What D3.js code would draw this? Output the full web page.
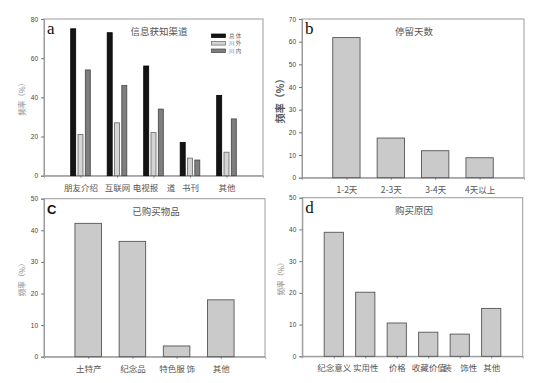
<!DOCTYPE html>
<html><head><meta charset="utf-8">
<script src="https://cdn.jsdelivr.net/npm/d3@7"></script>
<style>
html,body{margin:0;padding:0;background:#fff;}
svg{display:block;}
</style></head>
<body>
<script>
// ---------- DATA ----------
const catsA = ["朋友介绍", "互联网", "电视报　道", "书刊", "其他"];
const seriesNamesA = ["总 体", "川 外", "川 内"];
const totalA = [75, 73, 56, 17, 41];
const outsideA = [21, 27, 22, 9, 12];
const insideA = [54, 46, 34, 8, 29];

const catsB = ["1-2天", "2-3天", "3-4天", "4天以上"];
const valsB = [61.8, 17.5, 11.9, 8.8];

const catsC = ["土特产", "纪念品", "特色服 饰", "其他"];
const valsC = [42.2, 36.5, 3.4, 18];

const catsD = ["纪念意义", "实用性", "价格", "收藏价值", "装　饰性", "其他"];
const valsD = [39.1, 20.2, 10.5, 7.6, 7.0, 15.1];

const yTicksA = [0, 20, 40, 60, 80];
const yTicksB = [0, 10, 20, 30, 40, 50, 60, 70];
const yTicksC = [0, 10, 20, 30, 40, 50];
const yTicksD = [0, 10, 20, 30, 40, 50];

const titles = ["信息获知渠道", "停留天数", "已购买物品", "购买原因"];
const yLabel = "频率（%）";

// ---------- DRAW ----------
const W = 550, H = 383;
const svg = d3.select("body").append("svg").attr("width", W).attr("height", H);
const CJK = "'Noto Sans CJK SC','Noto Sans',sans-serif";
const NUM = "'Liberation Sans',Arial,sans-serif";
const SERIF = "'Liberation Serif','DejaVu Serif',serif";

function panel(o) {
  const g = svg.append("g");
  const x = d3.scaleLinear().domain([0, o.cats.length + 1]).range([o.l, o.r]);
  const y = d3.scaleLinear().domain([0, o.ymax]).range([o.b, o.t]);
  const step = x(1) - x(0);

  g.append("rect").attr("x", o.l).attr("y", o.t).attr("width", o.r - o.l).attr("height", o.b - o.t)
    .attr("fill", "none").attr("stroke", "#9a9a9a").attr("stroke-width", 1);

  const ya = g.append("g").attr("transform", `translate(${o.l},0)`)
    .call(d3.axisLeft(y).tickValues(o.yticks).tickSize(3).tickPadding(3).tickFormat(d3.format("d")));
  ya.select(".domain").attr("stroke", "#9a9a9a");
  ya.selectAll(".tick line").attr("stroke", "#777");
  ya.selectAll("text").attr("font-family", NUM).attr("font-size", 6.5).attr("fill", "#444");

  const xa = g.append("g").attr("transform", `translate(0,${o.b})`)
    .call(d3.axisBottom(x).tickValues(d3.range(1, o.cats.length + 1)).tickSize(2).tickPadding(7)
      .tickFormat((d) => o.cats[d - 1]));
  xa.select(".domain").attr("stroke", "#9a9a9a");
  xa.selectAll(".tick line").attr("stroke", "#777");
  xa.selectAll("text").attr("font-family", CJK).attr("font-size", 8.5).attr("fill", "#555");

  if (o.series) {
    const bw = step * 0.137, off = step * 0.2;
    o.series.forEach((s, si) => {
      g.append("g").selectAll("rect").data(s.vals).join("rect")
        .attr("x", (d, i) => x(i + 1) + (si - 1) * off - bw / 2)
        .attr("y", (d) => y(d))
        .attr("width", bw)
        .attr("height", (d) => y(0) - y(d))
        .attr("fill", s.fill).attr("stroke", s.stroke).attr("stroke-width", 0.8);
    });
  } else {
    const bw = step * o.bw;
    g.append("g").selectAll("rect").data(o.vals).join("rect")
      .attr("x", (d, i) => x(i + 1) - bw / 2)
      .attr("y", (d) => y(d))
      .attr("width", bw)
      .attr("height", (d) => y(0) - y(d))
      .attr("fill", "#cacaca").attr("stroke", "#555").attr("stroke-width", 0.9);
  }

  g.append("text").attr("x", o.l + 3).attr("y", o.t + 15).text(o.letter)
    .attr("font-family", o.letterFont || SERIF).attr("font-weight", o.letterBold ? "bold" : "normal")
    .attr("font-size", o.letterSize || 17).attr("fill", "#111");

  g.append("text").attr("x", o.titleX).attr("y", o.t + 16).attr("text-anchor", "middle").text(o.title)
    .attr("font-family", CJK).attr("font-size", 9.5).attr("fill", "#555");

  const cy = (o.t + o.b) / 2;
  g.append("text").attr("transform", `translate(${o.ylx},${cy}) rotate(-90)`)
    .attr("text-anchor", "middle").attr("dominant-baseline", "central").text(yLabel)
    .attr("font-family", CJK).attr("font-size", o.ylSize || 7.5).attr("fill", o.ylColor || "#8a8a8a")
    .attr("font-weight", o.ylBold ? "bold" : "normal");
  return { g, x, y };
}

const pa = panel({ l: 44, r: 263, t: 19, b: 175.7, ymax: 80, yticks: yTicksA, cats: catsA,
  series: [
    { vals: totalA, fill: "#141414", stroke: "#000" },
    { vals: outsideA, fill: "#d4d4d4", stroke: "#666" },
    { vals: insideA, fill: "#7e7e7e", stroke: "#444" }
  ],
  letter: "a", title: titles[0], titleX: 159, ylx: 21 });

const legFills = [["#141414", "#000"], ["#d4d4d4", "#666"], ["#7e7e7e", "#444"]];
seriesNamesA.forEach((n, i) => {
  pa.g.append("rect").attr("x", 211.5).attr("y", 34 + i * 7.5).attr("width", 14).attr("height", 3.6)
    .attr("fill", legFills[i][0]).attr("stroke", legFills[i][1]).attr("stroke-width", 0.7);
  pa.g.append("text").attr("x", 229).attr("y", 37.8 + i * 7.5).text(n)
    .attr("font-family", CJK).attr("font-size", 5.5).attr("fill", "#666");
});

panel({ l: 302, r: 524, t: 19, b: 177.7, ymax: 70, yticks: yTicksB, cats: catsB, vals: valsB, bw: 0.615,
  letter: "b", title: titles[1], titleX: 414, ylx: 279, ylSize: 10, ylColor: "#555", ylBold: true });

panel({ l: 44, r: 265, t: 198.7, b: 356.7, ymax: 50, yticks: yTicksC, cats: catsC, vals: valsC, bw: 0.6,
  letter: "C", letterFont: NUM, letterBold: true, letterSize: 13, title: titles[2], titleX: 156, ylx: 21 });

panel({ l: 302.3, r: 522.7, t: 197.7, b: 356.3, ymax: 50, yticks: yTicksD, cats: catsD, vals: valsD, bw: 0.61,
  letter: "d", title: titles[3], titleX: 414, ylx: 280 });
</script>
</body></html>
